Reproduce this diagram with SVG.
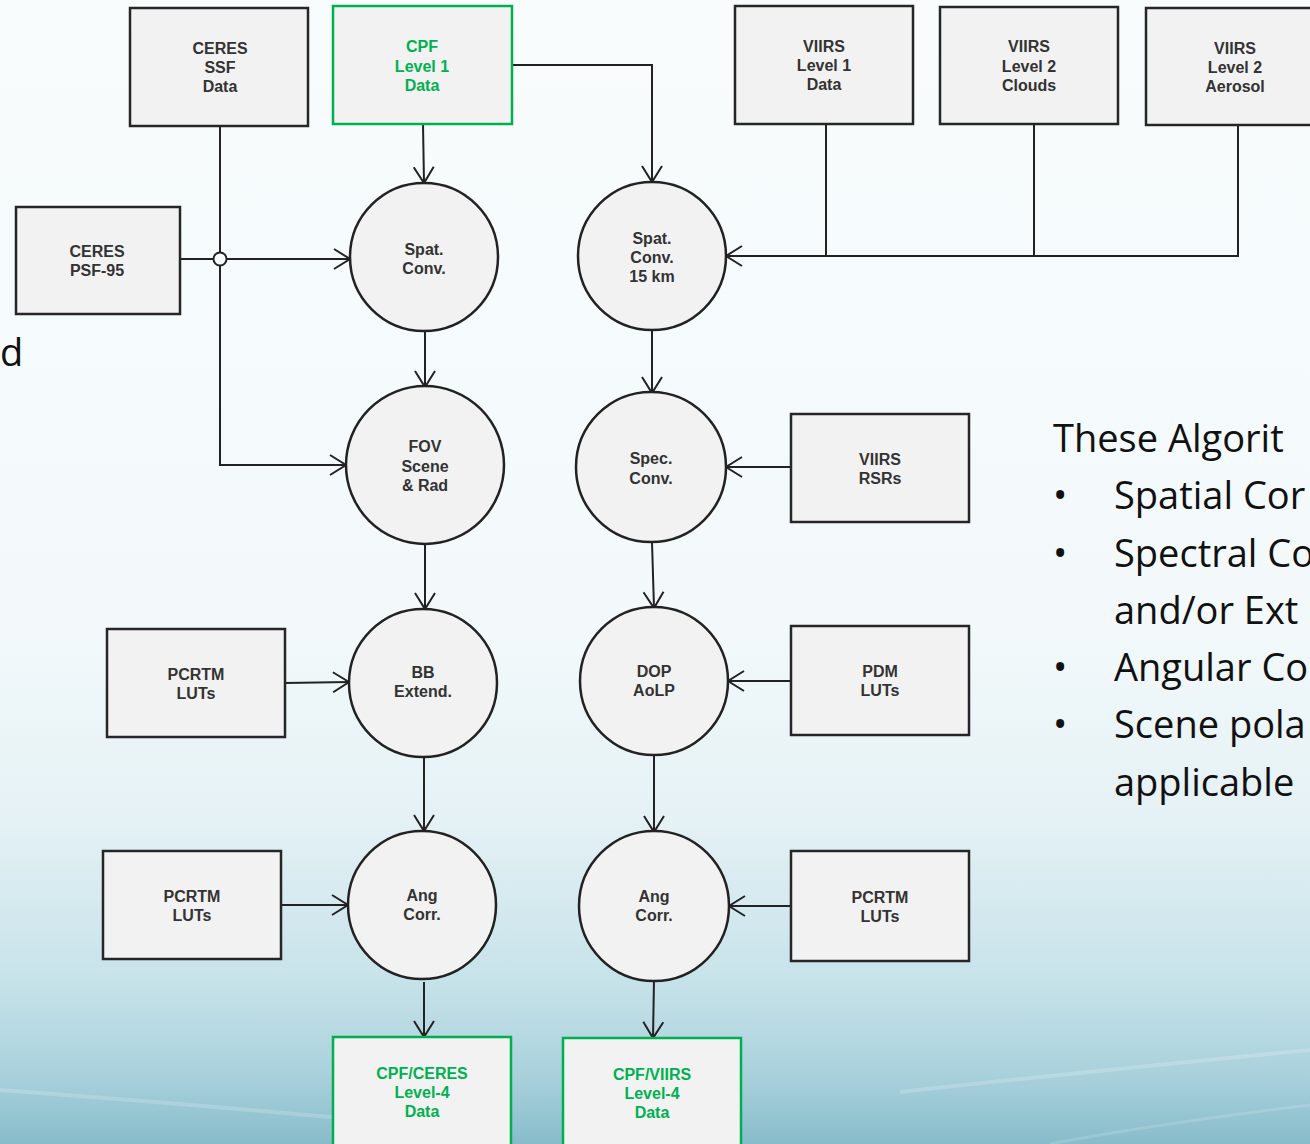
<svg xmlns="http://www.w3.org/2000/svg" width="1310" height="1144" viewBox="0 0 1310 1144">
<defs>
<linearGradient id="bg" x1="0" y1="0" x2="0" y2="1">
<stop offset="0" stop-color="#f8fcfd"/>
<stop offset="0.55" stop-color="#f3f9fb"/>
<stop offset="0.72" stop-color="#e4f1f5"/>
<stop offset="0.86" stop-color="#c6e2e9"/>
<stop offset="0.94" stop-color="#a9d1dc"/>
<stop offset="1" stop-color="#88bccb"/>
</linearGradient>
<marker id="arr" viewBox="0 0 20 24" refX="18" refY="12" markerWidth="20" markerHeight="24" markerUnits="userSpaceOnUse" orient="auto">
<path d="M2,2 L18,12 L2,22" fill="none" stroke="#222" stroke-width="2"/>
</marker>
<style>
.box{fill:#f2f2f2;stroke:#262626;stroke-width:2.5}
.gbox{fill:#f2f2f2;stroke:#00b050;stroke-width:2.5}
.proc{fill:#f2f2f2;stroke:#222;stroke-width:2.5}
.lbl{font-family:"Liberation Sans",Arial,sans-serif;font-size:16px;font-weight:bold;fill:#333;text-anchor:middle}
.glbl{font-family:"Liberation Sans",Arial,sans-serif;font-size:16px;font-weight:bold;fill:#00b050;text-anchor:middle}
.con{fill:none;stroke:#222;stroke-width:2}
.body{font-family:"Open Sans","Noto Sans",sans-serif;font-size:38px;fill:#111}
</style>
</defs>
<rect x="0" y="0" width="1310" height="1144" fill="url(#bg)"/>
<path d="M0,1090 Q200,1105 340,1118" fill="none" stroke="#ffffff" stroke-opacity="0.18" stroke-width="4"/>
<path d="M1310,1050 Q1100,1070 900,1092" fill="none" stroke="#ffffff" stroke-opacity="0.18" stroke-width="4"/>
<path d="M1310,1105 Q1150,1125 1050,1144" fill="none" stroke="#ffffff" stroke-opacity="0.14" stroke-width="3"/>

<text class="body" x="0" y="366">d</text>
<g id="notes" class="body">
<text x="1053" y="452">These Algorit</text>
<text x="1053" y="509">•</text><text x="1114" y="509">Spatial Cor</text>
<text x="1053" y="567">•</text><text x="1114" y="567">Spectral Co</text>
<text x="1114" y="624">and/or Ext</text>
<text x="1053" y="681">•</text><text x="1114" y="681">Angular Co</text>
<text x="1053" y="738">•</text><text x="1114" y="738">Scene pola</text>
<text x="1114" y="796">applicable</text>
</g>

<g id="connectors">
<path class="con" d="M423,124 L424,183" marker-end="url(#arr)"/>
<path class="con" d="M512,65 L652,65 L652,182" marker-end="url(#arr)"/>
<path class="con" d="M220,126 L220,465 L346,465" marker-end="url(#arr)"/>
<path class="con" d="M180,259 L214,259"/>
<path class="con" d="M226,259 L350,259" marker-end="url(#arr)"/>
<path class="con" d="M826,124 L826,256"/>
<path class="con" d="M1034,124 L1034,256"/>
<path class="con" d="M1238,125 L1238,256 L726,256" marker-end="url(#arr)"/>
<path class="con" d="M425,331 L425,387" marker-end="url(#arr)"/>
<path class="con" d="M652,330 L652,393" marker-end="url(#arr)"/>
<path class="con" d="M425,544 L425,609" marker-end="url(#arr)"/>
<path class="con" d="M652,542 L654,608" marker-end="url(#arr)"/>
<path class="con" d="M424,757 L424,831" marker-end="url(#arr)"/>
<path class="con" d="M654,755 L654,832" marker-end="url(#arr)"/>
<path class="con" d="M424,982 L424,1037" marker-end="url(#arr)"/>
<path class="con" d="M654,980 L653,1038" marker-end="url(#arr)"/>
<path class="con" d="M791,467 L726,467" marker-end="url(#arr)"/>
<path class="con" d="M285,683 L349,682" marker-end="url(#arr)"/>
<path class="con" d="M791,681 L728,681" marker-end="url(#arr)"/>
<path class="con" d="M281,905 L348,905" marker-end="url(#arr)"/>
<path class="con" d="M791,906 L729,906" marker-end="url(#arr)"/>
<circle cx="220" cy="259" r="6.5" fill="#fafdfe" stroke="#222" stroke-width="2"/>
</g>

<g id="ceres-ssf"><rect class="box" x="130" y="8" width="178" height="118"/>
<text class="lbl" x="220" y="54">CERES</text><text class="lbl" x="220" y="73">SSF</text><text class="lbl" x="220" y="92">Data</text></g>
<g id="cpf-l1"><rect class="gbox" x="333" y="6" width="179" height="118"/>
<text class="glbl" x="422" y="52">CPF</text><text class="glbl" x="422" y="72">Level 1</text><text class="glbl" x="422" y="91">Data</text></g>
<g id="viirs-l1"><rect class="box" x="735" y="6" width="178" height="118"/>
<text class="lbl" x="824" y="52">VIIRS</text><text class="lbl" x="824" y="71">Level 1</text><text class="lbl" x="824" y="90">Data</text></g>
<g id="viirs-l2c"><rect class="box" x="940" y="7" width="178" height="117"/>
<text class="lbl" x="1029" y="52">VIIRS</text><text class="lbl" x="1029" y="72">Level 2</text><text class="lbl" x="1029" y="91">Clouds</text></g>
<g id="viirs-l2a"><rect class="box" x="1146" y="8" width="178" height="117"/>
<text class="lbl" x="1235" y="54">VIIRS</text><text class="lbl" x="1235" y="73">Level 2</text><text class="lbl" x="1235" y="92">Aerosol</text></g>
<g id="ceres-psf"><rect class="box" x="16" y="207" width="164" height="107"/>
<text class="lbl" x="97" y="257">CERES</text><text class="lbl" x="97" y="276">PSF-95</text></g>
<g id="viirs-rsr"><rect class="box" x="791" y="414" width="178" height="108"/>
<text class="lbl" x="880" y="465">VIIRS</text><text class="lbl" x="880" y="484">RSRs</text></g>
<g id="pcrtm1"><rect class="box" x="107" y="629" width="178" height="108"/>
<text class="lbl" x="196" y="680">PCRTM</text><text class="lbl" x="196" y="699">LUTs</text></g>
<g id="pdm"><rect class="box" x="791" y="626" width="178" height="109"/>
<text class="lbl" x="880" y="677">PDM</text><text class="lbl" x="880" y="696">LUTs</text></g>
<g id="pcrtm2"><rect class="box" x="103" y="851" width="178" height="108"/>
<text class="lbl" x="192" y="902">PCRTM</text><text class="lbl" x="192" y="921">LUTs</text></g>
<g id="pcrtm3"><rect class="box" x="791" y="851" width="178" height="110"/>
<text class="lbl" x="880" y="903">PCRTM</text><text class="lbl" x="880" y="922">LUTs</text></g>
<g id="cpf-ceres-l4"><rect class="gbox" x="333" y="1037" width="178" height="120"/>
<text class="glbl" x="422" y="1079">CPF/CERES</text><text class="glbl" x="422" y="1098">Level-4</text><text class="glbl" x="422" y="1117">Data</text></g>
<g id="cpf-viirs-l4"><rect class="gbox" x="563" y="1038" width="178" height="120"/>
<text class="glbl" x="652" y="1080">CPF/VIIRS</text><text class="glbl" x="652" y="1099">Level-4</text><text class="glbl" x="652" y="1118">Data</text></g>

<g id="spat-conv"><circle class="proc" cx="424" cy="257" r="74"/>
<text class="lbl" x="424" y="255">Spat.</text><text class="lbl" x="424" y="274">Conv.</text></g>
<g id="spat-conv-15"><circle class="proc" cx="652" cy="256" r="74"/>
<text class="lbl" x="652" y="244">Spat.</text><text class="lbl" x="652" y="263">Conv.</text><text class="lbl" x="652" y="282">15 km</text></g>
<g id="fov"><circle class="proc" cx="425" cy="465" r="79"/>
<text class="lbl" x="425" y="452">FOV</text><text class="lbl" x="425" y="472">Scene</text><text class="lbl" x="425" y="491">&amp; Rad</text></g>
<g id="spec-conv"><circle class="proc" cx="651" cy="467" r="75"/>
<text class="lbl" x="651" y="464">Spec.</text><text class="lbl" x="651" y="484">Conv.</text></g>
<g id="bb-ext"><circle class="proc" cx="423" cy="683" r="74"/>
<text class="lbl" x="423" y="678">BB</text><text class="lbl" x="423" y="697">Extend.</text></g>
<g id="dop"><circle class="proc" cx="654" cy="681" r="74"/>
<text class="lbl" x="654" y="677">DOP</text><text class="lbl" x="654" y="696">AoLP</text></g>
<g id="ang1"><circle class="proc" cx="422" cy="905" r="74"/>
<text class="lbl" x="422" y="901">Ang</text><text class="lbl" x="422" y="920">Corr.</text></g>
<g id="ang2"><circle class="proc" cx="654" cy="906" r="75"/>
<text class="lbl" x="654" y="902">Ang</text><text class="lbl" x="654" y="921">Corr.</text></g>
</svg>
